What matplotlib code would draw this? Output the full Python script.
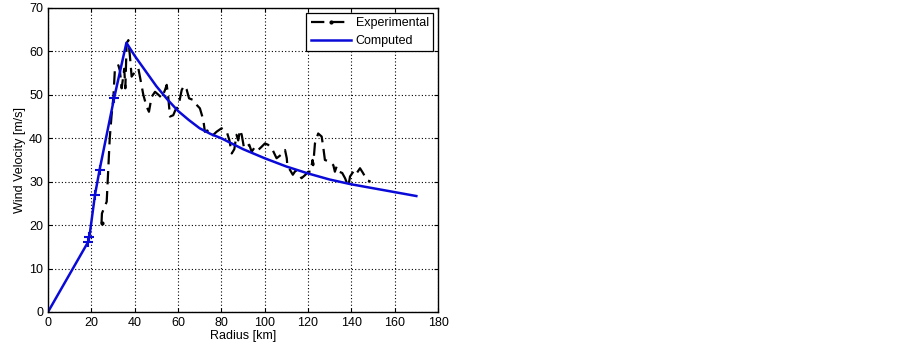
import matplotlib
matplotlib.use("Agg")
import matplotlib.pyplot as plt

plt.rcParams['font.family'] = ['Liberation Sans', 'DejaVu Sans']

# Experimental profile
exp_r = [24.7, 24.9, 27.1, 27.8, 28.5, 29.3, 30.2, 30.9, 32.5, 33.2, 34.0, 35.2, 35.7, 36.3, 37.1,
         37.8, 38.6, 40.2, 41.7, 42.5, 44.0, 45.5, 46.6, 47.8, 49.4, 51.0, 52.5, 54.0, 54.8,
         55.5, 56.3, 57.8, 58.8, 60.2, 61.7, 62.8, 64.0, 65.1, 67.1, 67.8, 70.1, 71.7, 72.4,
         73.5, 75.5, 77.8, 80.1, 82.5, 83.7, 84.8, 86.0, 87.0, 87.8, 88.6, 89.4, 90.5, 91.7,
         92.9, 94.0, 95.5, 97.0, 98.5, 100.1, 101.6, 103.5, 105.5, 106.8, 108.3, 109.4, 110.2,
         110.5, 111.7, 113.0, 114.3, 115.5, 117.0, 118.6, 120.1, 121.2, 122.1, 122.4, 123.2,
         124.7, 126.3, 127.0, 127.8, 130.1, 131.7, 132.4, 133.2, 134.4, 135.8, 137.1, 138.6,
         139.4, 140.9, 142.0, 144.0, 145.5, 147.1, 148.9]
exp_v = [20.4, 22.7, 25.4, 32.7, 40.0, 45.0, 49.6, 56.1, 56.8, 55.5, 51.5, 56.0, 51.5, 61.9, 62.6,
         59.0, 54.2, 55.3, 56.1, 54.0, 50.0, 47.3, 46.1, 49.5, 50.7, 50.0, 49.3, 51.1, 52.3,
         49.5, 45.0, 45.3, 46.5, 47.4, 51.1, 52.1, 51.2, 49.2, 48.8, 48.1, 46.9, 44.2, 41.5,
         41.8, 40.4, 41.5, 42.3, 41.5, 39.6, 36.5, 37.5, 40.8, 39.5, 41.9, 40.8, 37.7, 38.1,
         38.5, 36.9, 38.0, 37.3, 38.0, 38.8, 38.5, 37.5, 35.4, 35.9, 36.5, 37.3, 35.4,
         33.5, 32.7, 31.6, 32.6, 31.9, 30.8, 31.5, 32.3, 32.3, 35.0, 33.8, 38.8,
         41.1, 40.4, 38.1, 35.0, 34.6, 33.8, 32.3, 33.5, 32.3, 32.0, 30.8, 28.9,
         31.2, 32.3, 31.6, 33.1, 31.9, 30.4, 30.0]

# Computed profile
comp_r = [0, 18.6, 19.1, 21.7, 23.8, 30.5, 36.2, 40, 45, 50, 55, 60, 65, 70, 75, 80,
          90, 100, 110, 120, 130, 140, 150, 160, 170]
comp_v = [0, 16.2, 17.3, 27.0, 32.7, 49.2, 62.0, 59.0, 55.5, 52.0, 49.0, 46.3, 44.2, 42.3,
          41.0, 40.0, 37.5, 35.4, 33.5, 31.9, 30.5, 29.4, 28.5, 27.6, 26.7]
knee_idx = [1, 2, 3, 4, 5]

fig = plt.figure(figsize=(9.02, 3.47), dpi=100)
ax = fig.add_axes([0.0532, 0.1009, 0.4324, 0.8761])

ax.plot(exp_r, exp_v, color='black', lw=1.6, ls=(0, (6, 3)), marker='.',
        markersize=4, markevery=[0], label='Experimental')
ax.plot(comp_r, comp_v, color='#0a0ad8', lw=1.8, label='Computed')
ax.plot([comp_r[i] for i in knee_idx], [comp_v[i] for i in knee_idx], ls='none',
        marker='+', color='#0a0ad8', markersize=7, mew=1.5)

ax.set_xlim(0, 180)
ax.set_ylim(0, 70)
ax.set_xticks(range(0, 181, 20))
ax.set_yticks(range(0, 71, 10))
ax.grid(True, color='black', ls=(0, (1, 2)), lw=0.8)
ax.tick_params(direction='in', top=True, right=True, labelsize=9, length=3)
for s in ax.spines.values():
    s.set_linewidth(1.0)
ax.set_xlabel('Radius [km]', fontsize=9, labelpad=1)
ax.set_ylabel('Wind Velocity [m/s]', fontsize=9, labelpad=2)

leg = ax.legend(loc='upper right', fontsize=9, fancybox=False, edgecolor='black',
                framealpha=1, borderaxespad=0.4, handlelength=3.2, borderpad=0.35,
                labelspacing=0.45, handletextpad=0.4)
leg.get_frame().set_linewidth(0.9)

fig.savefig('out.png', dpi=100)
